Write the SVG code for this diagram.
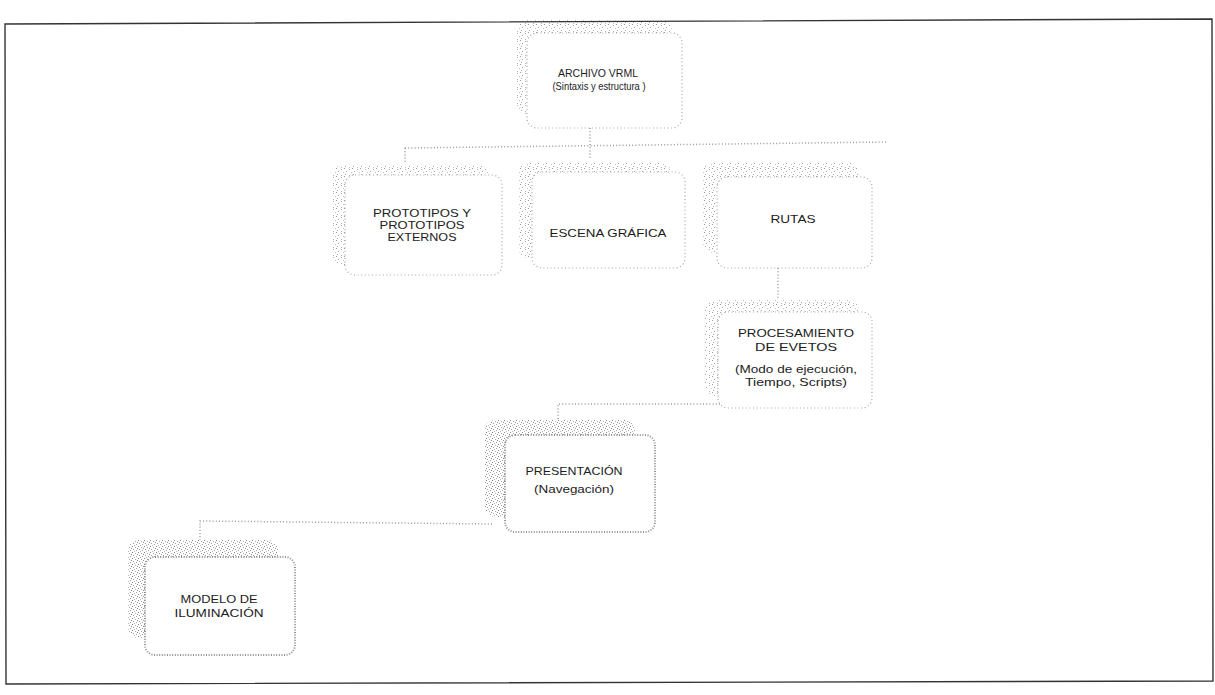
<svg xmlns="http://www.w3.org/2000/svg" width="1215" height="695" viewBox="0 0 1215 695">
  <defs>
    <!-- light stipple used for the raised back plate of most boxes -->
    <pattern id="stipple" width="8" height="8" patternUnits="userSpaceOnUse">
      <rect x="0" y="0" width="1" height="1" fill="#9a9a9a"/>
      <rect x="5" y="1" width="1" height="1" fill="#b4b4b4"/>
      <rect x="2" y="3" width="1" height="1" fill="#a6a6a6"/>
      <rect x="7" y="4" width="1" height="1" fill="#c0c0c0"/>
      <rect x="1" y="6" width="1" height="1" fill="#aaaaaa"/>
      <rect x="5" y="7" width="1" height="1" fill="#b8b8b8"/>
    </pattern>
    <!-- denser stipple for the lower two boxes -->
    <pattern id="stippleDense" width="6" height="6" patternUnits="userSpaceOnUse">
      <rect x="0" y="0" width="1" height="1" fill="#888"/>
      <rect x="3" y="1" width="1" height="1" fill="#a8a8a8"/>
      <rect x="5" y="2" width="1" height="1" fill="#8e8e8e"/>
      <rect x="1" y="3" width="1" height="1" fill="#9c9c9c"/>
      <rect x="4" y="4" width="1" height="1" fill="#a0a0a0"/>
      <rect x="2" y="5" width="1" height="1" fill="#b4b4b4"/>
    </pattern>
  </defs>
  <style>
    .back { fill: url(#stipple); }
    .backDense { fill: url(#stippleDense); }
    .front { fill: #ffffff; stroke: #a4a4a4; stroke-width: 1.2; stroke-dasharray: 1 2.6; }
    .frontDense { fill: #ffffff; stroke: #909090; stroke-width: 2; stroke-dasharray: 1 1.6; }
    .link { fill: none; stroke: #9a9a9a; stroke-width: 1.5; stroke-dasharray: 1 2.2; }
    .label { font-family: "Liberation Sans", Arial, sans-serif; fill: #1c1c1c; text-anchor: middle; }
    .frame { fill: none; stroke: #333; stroke-width: 1.4; }
  </style>

  <rect width="1215" height="695" fill="#ffffff"/>

  <!-- page frame -->
  <polygon class="frame" points="5,24 1212,19 1213,681 6,684"/>

  <!-- connectors -->
  <g id="connectors">
    <path class="link" d="M590 128 V160"/>
    <path class="link" d="M405 148 L888 142"/>
    <path class="link" d="M405 148 V163"/>
    <path class="link" d="M778 268 V300"/>
    <path class="link" d="M720 404 H558 V420"/>
    <path class="link" d="M492 524 L200 521 V540"/>
  </g>

  <g id="archivo-vrml">
    <rect class="back" x="517" y="20" width="155" height="95" rx="11"/>
    <rect class="front" x="527" y="33" width="155" height="95" rx="10"/>
    <text class="label" x="598" y="77" font-size="11" textLength="80" lengthAdjust="spacingAndGlyphs">ARCHIVO VRML</text>
    <text class="label" x="599" y="90" font-size="11" textLength="93" lengthAdjust="spacingAndGlyphs">(Sintaxis y estructura )</text>
  </g>

  <g id="prototipos">
    <rect class="back" x="332" y="165" width="157" height="100" rx="11"/>
    <rect class="front" x="345" y="175" width="157" height="100" rx="10"/>
    <text class="label" x="422" y="217" font-size="11.5" textLength="98" lengthAdjust="spacingAndGlyphs">PROTOTIPOS Y</text>
    <text class="label" x="422" y="229" font-size="11.5" textLength="85" lengthAdjust="spacingAndGlyphs">PROTOTIPOS</text>
    <text class="label" x="422" y="241" font-size="11.5" textLength="69" lengthAdjust="spacingAndGlyphs">EXTERNOS</text>
  </g>

  <g id="escena-grafica">
    <rect class="back" x="518" y="162" width="153" height="96" rx="11"/>
    <rect class="front" x="532" y="172" width="153" height="96" rx="10"/>
    <text class="label" x="608" y="237" font-size="11.5" textLength="117" lengthAdjust="spacingAndGlyphs">ESCENA GRÁFICA</text>
  </g>

  <g id="rutas">
    <rect class="back" x="703" y="162" width="155" height="91" rx="11"/>
    <rect class="front" x="717" y="177" width="155" height="91" rx="10"/>
    <text class="label" x="793" y="223" font-size="11.5" textLength="45" lengthAdjust="spacingAndGlyphs">RUTAS</text>
  </g>

  <g id="procesamiento">
    <rect class="back" x="705" y="300" width="154" height="96" rx="11"/>
    <rect class="front" x="718" y="312" width="154" height="96" rx="10"/>
    <text class="label" x="796" y="337" font-size="11.5" textLength="116" lengthAdjust="spacingAndGlyphs">PROCESAMIENTO</text>
    <text class="label" x="796" y="351" font-size="11.5" textLength="82" lengthAdjust="spacingAndGlyphs">DE EVETOS</text>
    <text class="label" x="796" y="373" font-size="11.5" textLength="122" lengthAdjust="spacingAndGlyphs">(Modo de ejecución,</text>
    <text class="label" x="796" y="386" font-size="11.5" textLength="102" lengthAdjust="spacingAndGlyphs">Tiempo, Scripts)</text>
  </g>

  <g id="presentacion">
    <rect class="backDense" x="485" y="420" width="150" height="97" rx="11"/>
    <rect class="frontDense" x="505" y="435" width="150" height="97" rx="10"/>
    <text class="label" x="574" y="475" font-size="11" textLength="97" lengthAdjust="spacingAndGlyphs">PRESENTACIÓN</text>
    <text class="label" x="574" y="493" font-size="11" textLength="80" lengthAdjust="spacingAndGlyphs">(Navegación)</text>
  </g>

  <g id="modelo-iluminacion">
    <rect class="backDense" x="128" y="540" width="150" height="98" rx="11"/>
    <rect class="frontDense" x="145" y="557" width="150" height="98" rx="10"/>
    <text class="label" x="219" y="603" font-size="11" textLength="77" lengthAdjust="spacingAndGlyphs">MODELO DE</text>
    <text class="label" x="219" y="617" font-size="11" textLength="89" lengthAdjust="spacingAndGlyphs">ILUMINACIÓN</text>
  </g>
</svg>
